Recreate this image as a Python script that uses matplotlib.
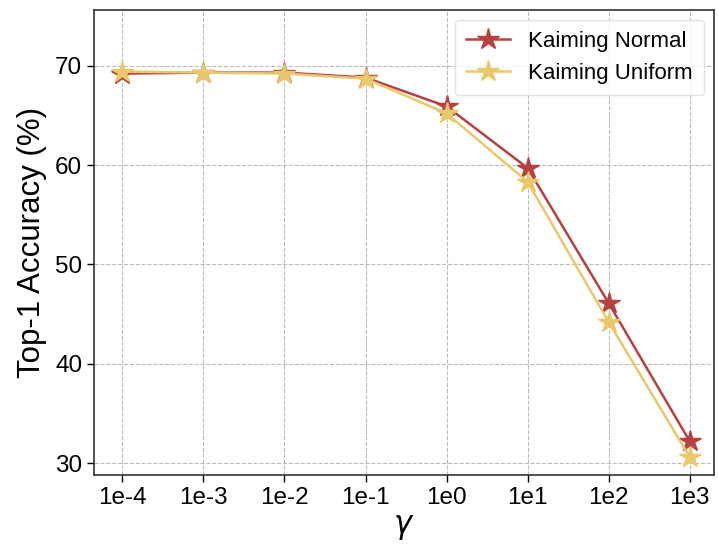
import matplotlib
matplotlib.use("Agg")
import matplotlib.pyplot as plt

gammas = ["1e-4", "1e-3", "1e-2", "1e-1", "1e0", "1e1", "1e2", "1e3"]
normal = [69.2, 69.3, 69.3, 68.8, 65.9, 59.7, 46.1, 32.2]
uniform = [69.4, 69.3, 69.2, 68.7, 65.2, 58.3, 44.2, 30.6]
yticks = [30, 40, 50, 60, 70]

plt.rcParams['font.family'] = ['Liberation Sans', 'DejaVu Sans']
fig = plt.figure(figsize=(7.18, 5.45), dpi=100)
ax = fig.add_axes([94/718, 70/545, 620/718, 465/545])

x = list(range(len(gammas)))
ax.plot(x, normal, color="#b8413f", marker="*", markersize=16, linewidth=1.8, label="Kaiming Normal")
ax.plot(x, uniform, color="#e9c86c", marker="*", markersize=16, linewidth=1.8, label="Kaiming Uniform")

ax.set_xlim(-0.35, 7.3)
ax.set_ylim(28.8, 75.6)
ax.set_xticks(x)
ax.set_xticklabels(gammas)
ax.set_yticks(yticks)
ax.tick_params(labelsize=17.5, length=5, width=1)
ax.grid(True, linestyle="--", color="#bbbbbb", linewidth=0.8)
ax.set_axisbelow(True)
for s in ax.spines.values():
    s.set_linewidth(1.2)
    s.set_color("#333333")
ax.set_ylabel("Top-1 Accuracy (%)", fontsize=22.5, labelpad=6)
ax.set_xlabel(r"$\gamma$", fontsize=22, labelpad=2)
ax.legend(loc="upper right", fontsize=16, framealpha=0.8, edgecolor="#dddddd",
          handlelength=2.0, borderpad=0.5, borderaxespad=0.45)

fig.savefig("out.png", dpi=100)
